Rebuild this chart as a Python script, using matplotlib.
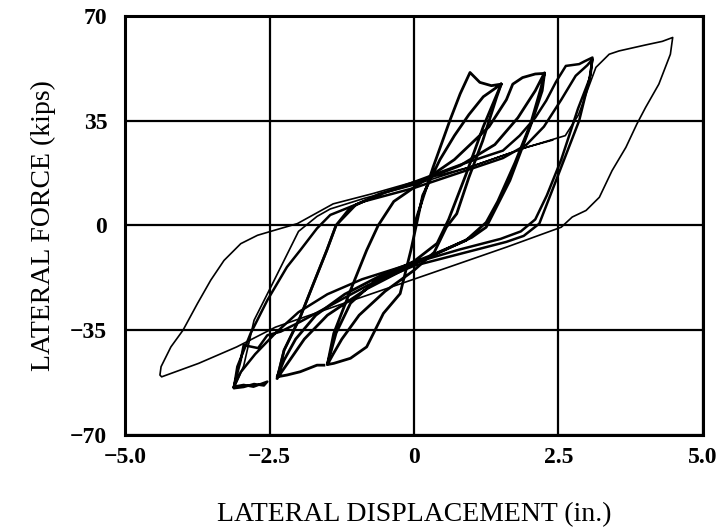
import matplotlib
matplotlib.use("Agg")
import matplotlib.pyplot as plt

# cycle at about +/-1.0 to 1.5 in. (initial loading)
c1_x = [0.00, 0.33, 0.62, 0.80, 0.97, 1.14, 1.34, 1.51, 1.43, 1.19, 0.95, 0.74, 0.56, 0.35,
        0.00, -0.50, -0.95, -1.25, -1.40, -1.50, -1.39, -1.10, -0.82, -0.70, -0.53, -0.24,
        -0.05, 0.15, 0.45, 0.70, 0.95, 1.20, 1.51]
c1_y = [0.0, 19.4, 35.0, 44.0, 51.1, 47.8, 46.7, 47.2, 42.8, 28.3, 16.0, 3.9, -0.6, -9.0,
        -15.0, -22.0, -30.0, -38.0, -43.0, -46.5, -46.1, -44.4, -40.6, -36.0, -29.4, -22.8,
        -8.0, 10.0, 22.0, 30.0, 37.0, 43.0, 47.2]

# repeat at 1.5 in., then cycles to about +/-2.3 in.
c2_x = [1.51, 1.20, 0.90, 0.60, 0.40, 0.00, -0.70, -1.10, -1.35, -1.50, -1.39, -1.10, -0.82,
        -0.62, -0.35, 0.10, 0.70, 1.30, 1.60, 1.71, 1.88, 2.10, 2.26, 2.22, 2.05, 1.66, 1.45,
        1.25, 1.00, 0.50, 0.00, -0.80, -1.50, -1.90, -2.15, -2.37, -2.25, -1.97, -1.74, -1.51,
        -1.35, -1.10, -0.60, 0.00, 0.80, 1.40, 1.80, 2.10, 2.26, 2.20, 2.02, 1.75, 1.45, 1.25,
        0.90, 0.30, -0.50, -1.20, -1.70, -2.05, -2.25, -2.37, -2.20, -1.97, -1.68, -1.56]
c2_y = [47.2, 33.0, 17.0, 2.0, -6.0, -12.0, -19.0, -26.0, -36.0, -46.5, -36.1, -21.7, -8.3,
        0.0, 8.0, 14.0, 22.0, 33.0, 42.0, 47.2, 49.4, 50.6, 50.8, 45.0, 35.0, 15.0, 7.0,
        -0.6, -4.0, -8.5, -13.0, -21.0, -30.0, -38.0, -45.0, -51.1, -41.7, -30.6, -19.4, -8.3,
        0.0, 6.0, 10.5, 14.0, 20.0, 27.0, 36.0, 45.0, 51.0, 46.0, 34.0, 21.0, 8.0, 1.0,
        -5.0, -10.0, -16.0, -23.0, -30.0, -38.0, -45.0, -50.6, -50.0, -48.9, -46.7, -46.7]

# cycles to about +/-3.1 in.
c3_x = [-2.37, -2.25, -1.97, -1.74, -1.51, -1.35, -1.00, -0.50, 0.00, 0.85, 1.54, 1.83, 2.10,
        2.29, 2.46, 2.63, 2.86, 2.95, 3.09, 3.06, 2.86, 2.46, 2.17, 1.90, 1.60, 1.00, 0.00,
        -0.80, -1.28, -1.97, -2.31, -2.54, -2.70, -2.95, -3.00, -3.12, -2.95, -2.78, -2.54,
        -2.60, -2.77, -2.95, -3.12, -3.06, -2.83, -2.54, -2.20, -1.97, -1.68, -1.45, -0.87,
        0.00, 0.85, 1.54, 1.95, 2.25, 2.55, 2.80, 3.00, 3.09, 3.04, 2.84, 2.55, 2.30, 2.10,
        1.85, 1.50, 0.80, 0.00, -0.90, -1.50, -2.00, -2.40, -2.75, -3.00, -3.12]
c3_y = [-51.1, -41.7, -30.6, -19.4, -8.3, 0.0, 7.0, 11.0, 14.5, 20.6, 25.0, 30.0, 36.0,
        41.7, 48.0, 53.3, 53.9, 54.8, 56.1, 50.6, 35.0, 15.0, 0.6, -3.5, -5.5, -8.5, -13.5,
        -20.0, -25.0, -32.2, -35.5, -36.7, -41.0, -40.0, -45.0, -53.9, -53.3, -53.9, -52.2,
        -53.5, -53.0, -54.0, -54.4, -47.2, -36.1, -25.0, -13.9, -8.3, -1.0, 3.5, 8.0,
        12.5, 18.0, 22.5, 27.0, 33.0, 42.0, 50.0, 53.5, 55.5, 49.0, 39.0, 22.0, 10.0, 2.0,
        -2.0, -4.5, -8.0, -12.5, -18.0, -23.0, -29.0, -36.0, -43.0, -49.0, -54.0]

# largest cycle, about +/-4.5 in.
c4_x = [-3.12, -2.95, -2.77, -2.48, -2.25, -2.00, -1.68, -1.45, -0.87, 0.00, 0.95, 1.95,
        2.62, 2.85, 3.00, 3.15, 3.38, 3.55, 4.01, 4.30, 4.48, 4.44, 4.24, 4.01, 3.86, 3.67,
        3.43, 3.21, 2.98, 2.74, 2.55, 1.61, 0.28, -1.06, -2.40, -3.07, -3.73, -4.37, -4.40,
        -4.38, -4.21, -4.00, -3.75, -3.52, -3.29, -3.00, -2.71, -2.43, -2.02, -1.40, -0.72,
        0.08, 0.95, 1.95, 2.40]
c4_y = [-54.4, -47.0, -31.7, -20.6, -11.7, -2.0, 3.0, 5.5, 9.0, 13.5, 19.4, 26.1,
        30.0, 37.0, 45.0, 52.8, 57.2, 58.3, 60.3, 61.5, 62.8, 57.2, 47.2, 39.4, 33.9, 26.1,
        18.3, 9.4, 5.0, 2.8, -0.6, -7.2, -16.1, -25.0, -34.0, -40.6, -46.1, -50.6, -50.0,
        -47.2, -40.6, -35.0, -26.1, -18.3, -11.7, -6.1, -3.3, -1.7, 0.6, 7.2, 10.6,
        15.0, 19.4, 26.1, 28.5]

x_ticks = [-5.0, -2.5, 0.0, 2.5, 5.0]
x_tick_labels = ["\u22125.0", "\u22122.5", "0", "2.5", "5.0"]
y_ticks = [-70, -35, 0, 35, 70]
y_tick_labels = ["\u221270", "\u221235", "0", "35", "70"]

plt.rcParams["font.family"] = ["Liberation Serif", "DejaVu Serif"]

fig = plt.figure(figsize=(7.2, 5.31), dpi=100)
ax = fig.add_axes([0.174, 0.181, 0.802, 0.789])

ax.plot(c1_x, c1_y, color="black", lw=2.0)
ax.plot(c2_x, c2_y, color="black", lw=2.0)
ax.plot(c3_x, c3_y, color="black", lw=1.8)
ax.plot(c4_x, c4_y, color="black", lw=1.2)

ax.set_xlim(-5.0, 5.0)
ax.set_ylim(-70, 70)
ax.set_xticks(x_ticks)
ax.set_xticklabels(x_tick_labels)
ax.set_yticks(y_ticks)
ax.set_yticklabels(y_tick_labels)
ax.tick_params(length=0, labelsize=17, pad=9)
ax.tick_params(axis="y", pad=13)
for lab in ax.get_xticklabels() + ax.get_yticklabels():
    lab.set_fontweight("bold")

ax.grid(True, color="black", lw=1.6)
for sp in ax.spines.values():
    sp.set_linewidth(2.2)

ax.set_xlabel("LATERAL DISPLACEMENT (in.)", fontsize=20, labelpad=24)
ax.set_ylabel("LATERAL FORCE (kips)", fontsize=20, labelpad=10)

fig.savefig("out.png", dpi=100)
